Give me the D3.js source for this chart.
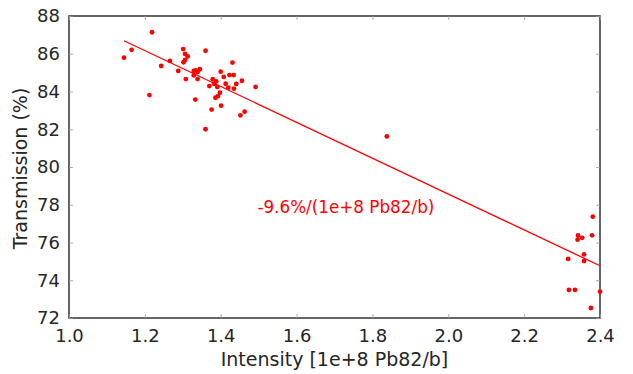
<!DOCTYPE html>
<html>
<head>
<meta charset="utf-8">
<script src="https://cdn.jsdelivr.net/npm/d3@7"></script>
<style>
  body { margin: 0; background: #fff; }
  svg { font-family: "DejaVu Sans", sans-serif; }
</style>
</head>
<body>
<svg id="chart" width="633" height="374"></svg>
<script>
// measured points: intensity [1e+8 Pb82/b] and transmission (%)
let intensity = [
  1.145, 1.165, 1.219, 1.212, 1.243, 1.266, 1.288, 1.301, 1.306, 1.313,
  1.306, 1.302, 1.308, 1.329, 1.334, 1.329, 1.339, 1.345, 1.339, 1.333,
  1.360, 1.360, 1.370, 1.379, 1.383, 1.388, 1.391, 1.386, 1.393, 1.398,
  1.376, 1.400, 1.408, 1.413, 1.401, 1.420, 1.423, 1.434, 1.431, 1.441,
  1.435, 1.456, 1.463, 1.452, 1.492, 1.838,
  2.381, 2.342, 2.341, 2.353, 2.379, 2.316, 2.358, 2.358, 2.318, 2.334,
  2.400, 2.376
];
let transmission = [
  85.79, 86.21, 87.14, 83.81, 85.35, 85.62, 85.09, 86.25, 85.99, 85.86,
  85.67, 85.55, 84.66, 85.09, 85.12, 84.86, 85.03, 85.18, 84.66, 83.57,
  86.16, 82.00, 84.29, 84.65, 84.40, 84.54, 84.24, 83.67, 83.76, 83.94,
  83.04, 85.05, 84.77, 84.41, 83.25, 84.20, 84.87, 84.87, 85.53, 84.40,
  84.15, 84.57, 82.93, 82.74, 84.24, 81.62,
  77.37, 76.37, 76.15, 76.25, 76.38, 75.13, 75.37, 75.02, 73.49, 73.49,
  73.39, 72.53
];
let xTicks = [1.0, 1.2, 1.4, 1.6, 1.8, 2.0, 2.2, 2.4];
let yTicks = [72, 74, 76, 78, 80, 82, 84, 86, 88];
let fitLabel = "-9.6%/(1e+8 Pb82/b)";

const svg = d3.select("#chart");
const margin = { left: 69, right: 33, top: 16, bottom: 56 };
const width = 633, height = 374;
const axisColor = "#262626";

const x = d3.scaleLinear().domain([1.0, 2.4]).range([margin.left, width - margin.right]);
const y = d3.scaleLinear().domain([72, 88]).range([height - margin.bottom, margin.top]);

// plot frame
svg.append("rect")
  .attr("x", x(1.0))
  .attr("y", y(88))
  .attr("width", x(2.4) - x(1.0))
  .attr("height", y(72) - y(88))
  .attr("fill", "none")
  .attr("stroke", "#333")
  .attr("stroke-width", 1.5);

// inward ticks on all four sides
function styleAxis(g) {
  g.select(".domain").remove();
  g.selectAll(".tick line").attr("stroke", "#999").attr("stroke-width", 0.8);
  g.selectAll(".tick text").attr("fill", axisColor).attr("font-size", "18px")
    .attr("font-family", "DejaVu Sans, sans-serif");
}

svg.append("g")
  .attr("transform", "translate(0," + y(72) + ")")
  .call(d3.axisBottom(x).tickValues(xTicks).tickFormat(d3.format(".1f"))
    .tickSizeInner(-4).tickSizeOuter(0).tickPadding(11))
  .call(styleAxis);

svg.append("g")
  .attr("transform", "translate(0," + y(88) + ")")
  .call(d3.axisTop(x).tickValues(xTicks).tickFormat("").tickSizeInner(-4).tickSizeOuter(0))
  .call(styleAxis);

svg.append("g")
  .attr("transform", "translate(" + x(1.0) + ",0)")
  .call(d3.axisLeft(y).tickValues(yTicks).tickFormat(d3.format("d"))
    .tickSizeInner(-4).tickSizeOuter(0).tickPadding(9))
  .call(styleAxis);

svg.append("g")
  .attr("transform", "translate(" + x(2.4) + ",0)")
  .call(d3.axisRight(y).tickValues(yTicks).tickFormat("").tickSizeInner(-4).tickSizeOuter(0))
  .call(styleAxis);

// least squares fit
const pts = intensity.map((v, i) => ({ x: v, y: transmission[i] }));
const mx = d3.mean(pts, (d) => d.x);
const my = d3.mean(pts, (d) => d.y);
const slope = d3.sum(pts, (d) => (d.x - mx) * (d.y - my)) / d3.sum(pts, (d) => (d.x - mx) * (d.x - mx));
const icpt = my - slope * mx;
const xr = d3.extent(intensity);

svg.append("line")
  .attr("x1", x(xr[0]))
  .attr("y1", y(icpt + slope * xr[0]))
  .attr("x2", x(xr[1]))
  .attr("y2", y(icpt + slope * xr[1]))
  .attr("stroke", "#ff0000")
  .attr("stroke-width", 1.3);

svg.append("g")
  .selectAll("circle")
  .data(pts)
  .enter()
  .append("circle")
  .attr("cx", (d) => x(d.x))
  .attr("cy", (d) => y(d.y))
  .attr("r", 2.4)
  .attr("fill", "#ff0000");

svg.append("text")
  .attr("x", x(1.73))
  .attr("y", y(77.55))
  .attr("text-anchor", "middle")
  .attr("font-size", "16.8px")
  .attr("fill", "#ff0000")
  .text(fitLabel);

// axis titles
svg.append("text")
  .attr("x", (x(1.0) + x(2.4)) / 2)
  .attr("y", 366)
  .attr("text-anchor", "middle")
  .attr("font-size", "19px")
  .attr("fill", axisColor)
  .text("Intensity [1e+8 Pb82/b]");

svg.append("text")
  .attr("transform", "translate(27,168.5) rotate(-90)")
  .attr("text-anchor", "middle")
  .attr("font-size", "19px")
  .attr("fill", axisColor)
  .text("Transmission (%)");
</script>
</body>
</html>
